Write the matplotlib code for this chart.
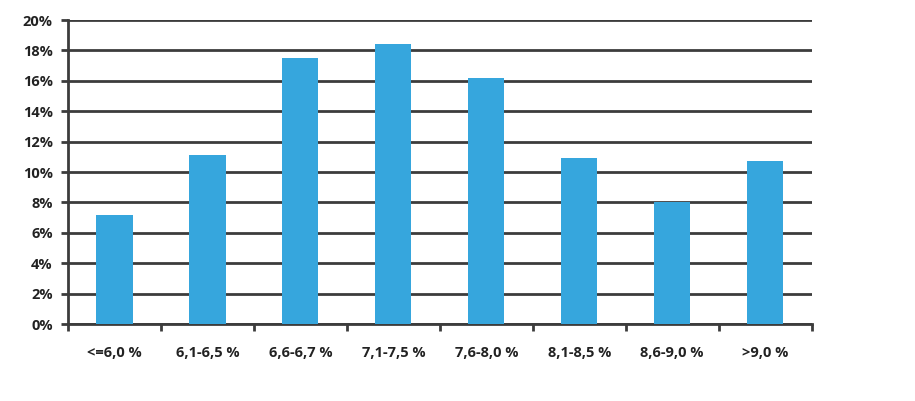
import numpy as np
from matplotlib import pyplot as plt
from matplotlib.ticker import FuncFormatter

categories = ["<=6,0 %", "6,1-6,5 %", "6,6-6,7 %", "7,1-7,5 %",
              "7,6-8,0 %", "8,1-8,5 %", "8,6-9,0 %", ">9,0 %"]
values = [7.2, 11.1, 17.5, 18.4, 16.2, 10.9, 8.0, 10.7]
y_ticks = [0, 2, 4, 6, 8, 10, 12, 14, 16, 18, 20]

plt.rcParams['font.family'] = ['Open Sans', 'DejaVu Sans']

fig = plt.figure(figsize=(9.15, 4.01), dpi=100)
ax = fig.add_axes([0.0743, 0.192, 0.8127, 0.758])

x = np.arange(len(categories))
ax.bar(x, values, width=0.39, color="#36a6dd", zorder=3)

ax.set_xlim(-0.5, len(categories) - 0.5)
ax.set_ylim(0, 20)
ax.set_yticks(y_ticks)
ax.yaxis.set_major_formatter(FuncFormatter(lambda v, p: "%d%%" % v))
ax.grid(axis="y", color="#3c3c3c", linewidth=2, zorder=1)

# ticks at the category boundaries, labels in the middle
ax.set_xticks(np.arange(-0.5, len(categories), 1.0))
ax.set_xticklabels([])
ax.set_xticks(x, minor=True)
ax.set_xticklabels(categories, minor=True)
ax.tick_params(axis="x", which="minor", length=0, pad=16, labelsize=10.5)
ax.tick_params(axis="x", which="major", length=5, width=2, color="#3c3c3c")
ax.tick_params(axis="y", length=5, width=2, color="#3c3c3c", labelsize=10.5, pad=6)
for lbl in ax.get_xticklabels(minor=True) + ax.get_yticklabels():
    lbl.set_fontweight("bold")
    lbl.set_color("#222222")

for s in ["top", "right"]:
    ax.spines[s].set_visible(False)
ax.spines["left"].set_color("#3c3c3c")
ax.spines["left"].set_linewidth(2)
ax.spines["bottom"].set_color("#3c3c3c")
ax.spines["bottom"].set_linewidth(2)

fig.savefig("out.png", dpi=100)
